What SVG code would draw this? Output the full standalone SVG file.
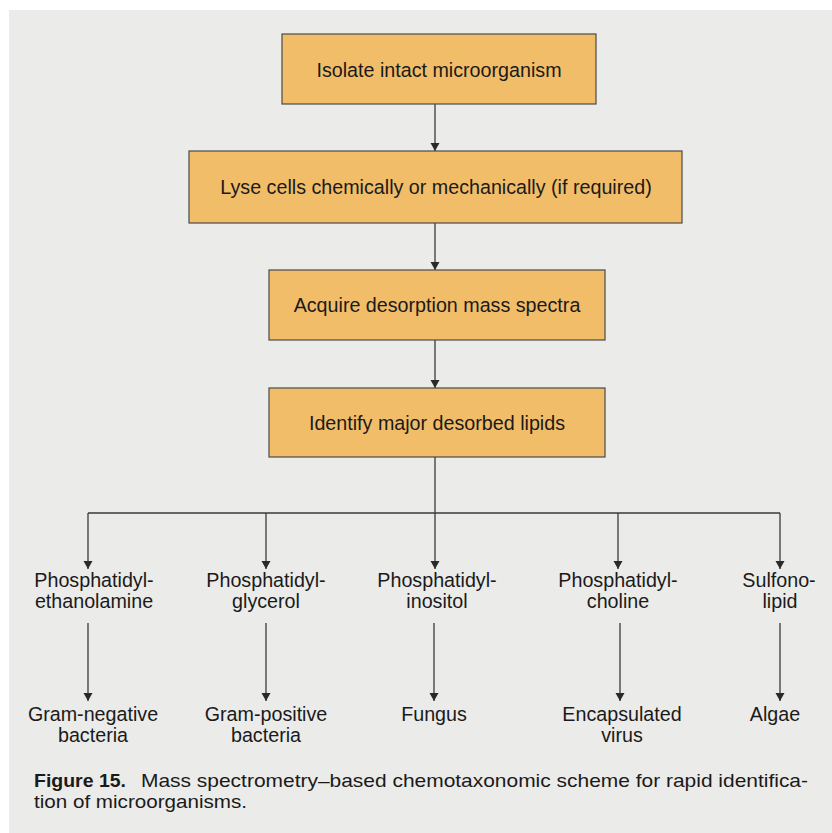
<svg xmlns="http://www.w3.org/2000/svg" width="832" height="833" viewBox="0 0 832 833">
<defs>
<marker id="ah" viewBox="0 0 8 11" refX="8" refY="5.5" markerWidth="8" markerHeight="11" markerUnits="userSpaceOnUse" orient="auto">
<path d="M0,1 L8,5.5 L0,10 Z" fill="#2a2a2a"/>
</marker>
<style>
.box{fill:#f2bd69;stroke:#4a4a4a;stroke-width:1.2}
.t{font-family:"Liberation Sans",Arial,sans-serif;font-size:19.7px;fill:#1a1a1a;text-anchor:middle}
.c{stroke:#3a3a3a;stroke-width:1.3;fill:none}
.a{marker-end:url(#ah)}
.cap{font-family:"Liberation Sans",Arial,sans-serif;font-size:19px;fill:#1a1a1a}
</style>
</defs>
<rect x="0" y="0" width="832" height="833" fill="#ffffff"/>
<rect x="9" y="10" width="823" height="823" fill="#ebebe9"/>

<g id="connectors">
<line class="c a" x1="435" y1="104" x2="435" y2="151"/>
<line class="c a" x1="435" y1="223" x2="435" y2="270"/>
<line class="c a" x1="435" y1="340" x2="435" y2="388"/>
<line class="c" x1="435" y1="457" x2="435" y2="513"/>
<line class="c" x1="88" y1="513" x2="780" y2="513"/>
<line class="c a" x1="88" y1="513" x2="88" y2="569"/>
<line class="c a" x1="266" y1="513" x2="266" y2="569"/>
<line class="c a" x1="435" y1="513" x2="435" y2="569"/>
<line class="c a" x1="618" y1="513" x2="618" y2="569"/>
<line class="c a" x1="780" y1="513" x2="780" y2="569"/>
<line class="c a" x1="88" y1="623" x2="88" y2="701"/>
<line class="c a" x1="266" y1="623" x2="266" y2="701"/>
<line class="c a" x1="434" y1="623" x2="434" y2="701"/>
<line class="c a" x1="620" y1="623" x2="620" y2="701"/>
<line class="c a" x1="780" y1="623" x2="780" y2="701"/>
</g>

<g id="n1"><rect class="box" x="282" y="34" width="314" height="70"/><text class="t" x="439" y="77">Isolate intact microorganism</text></g>
<g id="n2"><rect class="box" x="189" y="151" width="493" height="72"/><text class="t" x="436" y="194">Lyse cells chemically or mechanically (if required)</text></g>
<g id="n3"><rect class="box" x="269" y="270" width="336" height="70"/><text class="t" x="437" y="312">Acquire desorption mass spectra</text></g>
<g id="n4"><rect class="box" x="269" y="388" width="336" height="69"/><text class="t" x="437" y="430">Identify major desorbed lipids</text></g>

<g id="pe"><text class="t" x="94" y="587">Phosphatidyl-</text><text class="t" x="94" y="608">ethanolamine</text></g>
<g id="pg"><text class="t" x="266" y="587">Phosphatidyl-</text><text class="t" x="266" y="608">glycerol</text></g>
<g id="pi"><text class="t" x="437" y="587">Phosphatidyl-</text><text class="t" x="437" y="608">inositol</text></g>
<g id="pc"><text class="t" x="618" y="587">Phosphatidyl-</text><text class="t" x="618" y="608">choline</text></g>
<g id="sl"><text class="t" x="779" y="587">Sulfono-</text><text class="t" x="780" y="608">lipid</text></g>

<g id="gn"><text class="t" x="93" y="721">Gram-negative</text><text class="t" x="93" y="742">bacteria</text></g>
<g id="gp"><text class="t" x="266" y="721">Gram-positive</text><text class="t" x="266" y="742">bacteria</text></g>
<g id="fu"><text class="t" x="434" y="721">Fungus</text></g>
<g id="ev"><text class="t" x="622" y="721">Encapsulated</text><text class="t" x="622" y="742">virus</text></g>
<g id="al"><text class="t" x="775" y="721">Algae</text></g>

<g id="caption">
<text class="cap" x="34" y="787" font-weight="bold" textLength="92" lengthAdjust="spacingAndGlyphs">Figure 15.</text>
<text class="cap" x="141" y="787" textLength="667" lengthAdjust="spacingAndGlyphs">Mass spectrometry–based chemotaxonomic scheme for rapid identifica-</text>
<text class="cap" x="34" y="808" textLength="213" lengthAdjust="spacingAndGlyphs">tion of microorganisms.</text>
</g>
</svg>
